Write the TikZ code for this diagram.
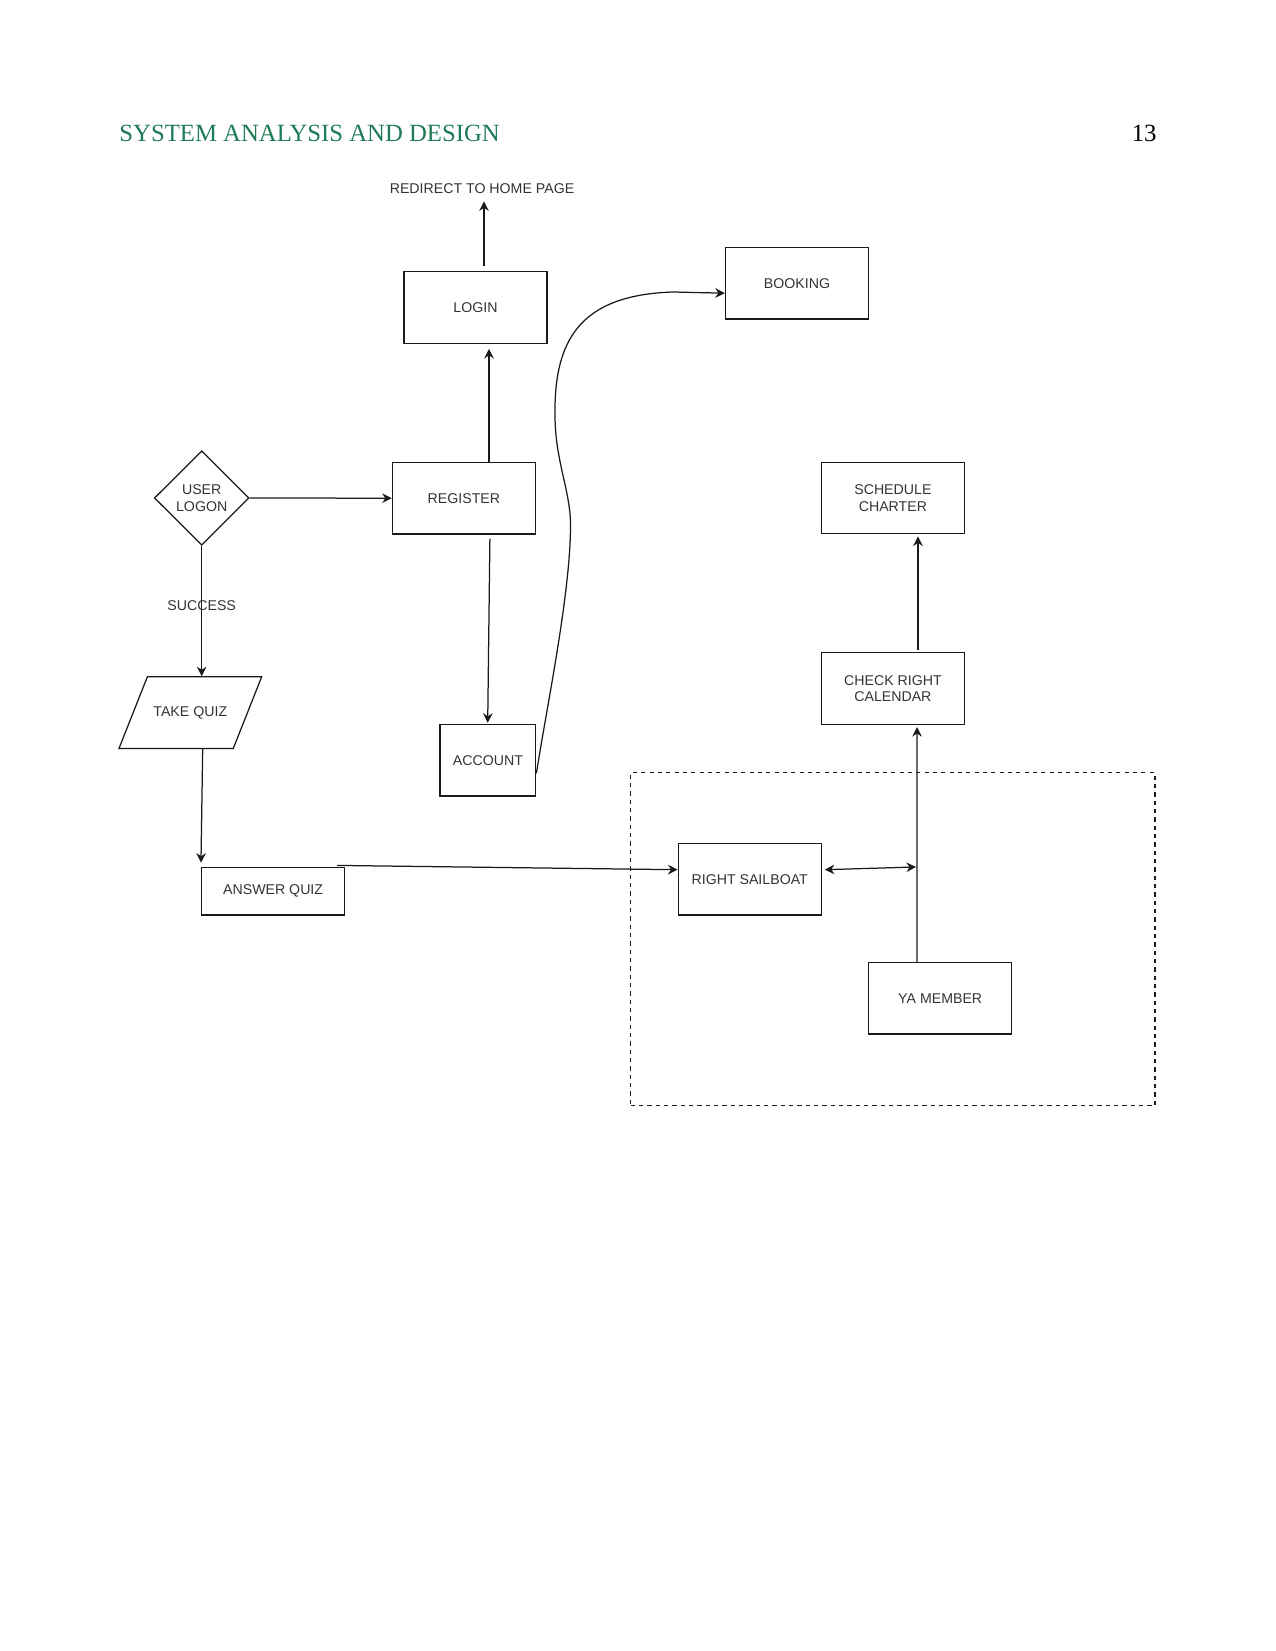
\documentclass[tikz,border=0pt]{standalone}
\usepackage{fontspec}
\setmainfont{Liberation Serif}
\newfontfamily\diagfont{Liberation Sans}
\usetikzlibrary{arrows.meta,calc,shapes.geometric}
\definecolor{hdrgreen}{HTML}{1E7B55}
\definecolor{ink}{HTML}{1A1A1A}
\definecolor{txt}{HTML}{333333}
\begin{document}
\begin{tikzpicture}[x=0.48pt,y=-0.48pt,
  every node/.style={inner sep=0pt},
  lbl/.style={font=\diagfont\fontsize{6.8}{8}\selectfont, text=txt, align=center},
  box/.style={lbl, draw=ink, line width=0.6pt, rectangle, minimum width=68.64pt, minimum height=34.37pt},
  conn/.style={draw=ink, line width=0.6pt},
  tip/.tip={Stealth[length=4.6pt,width=4.6pt,inset=1.5pt]},
  arr/.style={conn, -tip},
  darr/.style={conn, tip-tip},
  hdr/.style={font=\fontsize{11.88}{14}\selectfont},
]
\useasboundingbox (0,0) rectangle (1275,1651);

% header
\node[hdr, anchor=base west, text=hdrgreen] (title) at (119,142) {SYSTEM ANALYSIS AND DESIGN};
\node[hdr, anchor=base east] (pagenum) at (1157,142) {13};

% dashed group
\node[draw=ink, line width=0.6pt, dash pattern=on 2pt off 2pt, rectangle,
      minimum width=251.7pt, minimum height=159.7pt] (group) at (892.85,939.2) {};

% nodes
\node[lbl] (redir) at (482,189) {REDIRECT TO HOME PAGE};
\node[box] (login) at (475.5,307.5) {LOGIN};
\node[box] (booking) at (797,283.2) {BOOKING};
\node[box] (register) at (463.9,498.2) {REGISTER};
\node[box] (schedule) at (892.9,498) {SCHEDULE\\CHARTER};
\node[box] (check) at (892.9,688.6) {CHECK RIGHT\\CALENDAR};
\node[box, minimum width=45.94pt] (account) at (487.9,760.2) {ACCOUNT};
\node[box] (sailboat) at (749.7,879.2) {RIGHT SAILBOAT};
\node[box] (ya) at (940.2,998.2) {YA MEMBER};
\node[box, minimum height=22.9pt] (answer) at (273.1,891.2) {ANSWER QUIZ};
\node[lbl, diamond, draw=ink, line width=0.6pt, minimum width=45.46pt, minimum height=45.3pt] (logon) at (201.7,498) {USER\\LOGON};
\node[lbl, minimum width=68.5pt, minimum height=34.4pt] (takequiz) at (190.3,712.5) {TAKE QUIZ};
\draw[conn] (147.4,676.7) -- (261.7,676.7) -- (233.3,748.4) -- (119,748.4) -- cycle;

% connectors
\draw[arr] ($(login.north)+(8.5,-5)$) -- ($(login.north)+(8.5,-69.7)$);
\draw[arr] ($(register.north)+(25.1,0)$) -- ($(login.south)+(13.5,5)$);
\draw[arr] (logon.east) -- (register.west);
\draw[arr] ($(register.south)+(26,4)$) -- ($(account.north)+(-0.2,-1)$);
\draw[arr] (logon.south) -- node[lbl, pos=0.46] (success) {SUCCESS} (logon.south |- takequiz.north);
\draw[arr] ($(takequiz.south)+(12.4,0)$) -- ($(answer.north west)+(0,-4)$);
\draw[arr] ($(answer.north east)+(-8,-1.3)$) -- ($(sailboat.west)+(0,-9.5)$);
\draw[arr] ($(ya.north)+(-23.2,0)$) -- ($(check.south)+(24.1,2)$);
\draw[arr] ($(check.north)+(25.1,-2)$) -- ($(schedule.south)+(25.1,2)$);
\coordinate (junction) at ($(ya.north)+(-24.2,-94.8)$);
\draw[darr] ($(sailboat.east)+(3,-9.5)$) -- (junction);
\draw[arr] ($(account.east)+(0,13.1)$) .. controls (548,700) and (571,590) .. (570.5,523)
  .. controls (570,490) and (555,460) .. (555,415)
  .. controls (554,340) and (580,295) .. (673,292) -- ($(booking.west)+(0,10)$);
\end{tikzpicture}
\end{document}
